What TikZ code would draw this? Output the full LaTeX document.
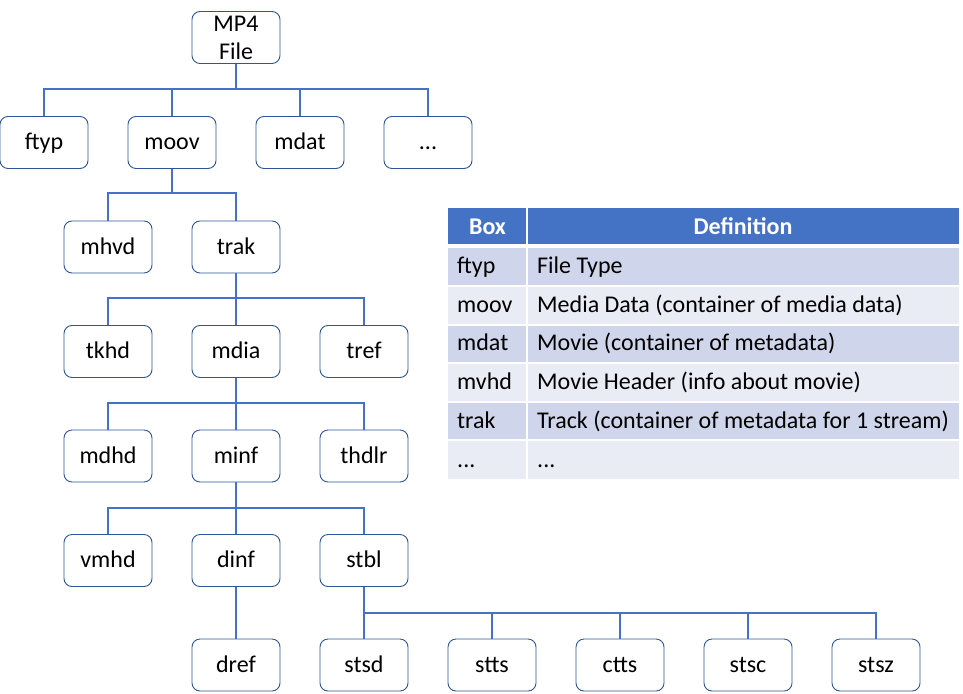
\documentclass[tikz,border=0pt]{standalone}
\usepackage{fontspec}
\setmainfont{Carlito}
\definecolor{conn}{HTML}{4472C4}
\definecolor{boxline}{HTML}{2F5597}
\definecolor{hdr}{HTML}{4472C4}
\definecolor{rowdark}{HTML}{CFD5EA}
\definecolor{rowlight}{HTML}{E9EBF5}
\tikzset{
  bxbase/.style={draw=boxline, line width=0.9pt, rounded corners=8pt, fill=white,
    minimum width=88pt, minimum height=52pt, inner sep=0pt, align=center,
    font=\fontsize{24}{28}\selectfont},
  bx/.style={bxbase, text height=18pt, text depth=4pt},
  cn/.style={draw=conn, line width=2pt},
  tcell/.style={anchor=west, inner sep=0pt, text height=19pt, text depth=5pt,
    font=\fontsize{24}{26}\selectfont},
  thead/.style={inner sep=0pt, text=white, text height=19pt, text depth=3pt,
    font=\fontsize{24}{26}\selectfont\bfseries},
}
\begin{document}
\begin{tikzpicture}[x=1pt,y=-1pt]
\useasboundingbox (0,0) rectangle (963,693);
% tree nodes
\node[bxbase] (mp4) at (236,37.5) {MP4\\File};
\node[bx] (ftyp) at (44,142.5) {ftyp};
\node[bx] (moov) at (172,142.5) {moov};
\node[bx] (mdat) at (300,142.5) {mdat};
\node[bx] (etc) at (428,142.5) {...};
\node[bx] (mhvd) at (108,247) {mhvd};
\node[bx] (trak) at (236,247) {trak};
\node[bx] (tkhd) at (108,351.5) {tkhd};
\node[bx] (mdia) at (236,351.5) {mdia};
\node[bx] (tref) at (364,351.5) {tref};
\node[bx] (mdhd) at (108,456) {mdhd};
\node[bx] (minf) at (236,456) {minf};
\node[bx] (thdlr) at (364,456) {thdlr};
\node[bx] (vmhd) at (108,560.5) {vmhd};
\node[bx] (dinf) at (236,560.5) {dinf};
\node[bx] (stbl) at (364,560.5) {stbl};
\node[bx] (dref) at (236,665) {dref};
\node[bx] (stsd) at (364,665) {stsd};
\node[bx] (stts) at (492,665) {stts};
\node[bx] (ctts) at (620,665) {ctts};
\node[bx] (stsc) at (748,665) {stsc};
\node[bx] (stsz) at (876,665) {stsz};
% junctions
\coordinate (j0) at (236,88.5);
\coordinate (j1) at (172,193);
\coordinate (j2) at (236,298);
\coordinate (j3) at (236,403);
\coordinate (j4) at (236,508);
\coordinate (j5) at (364,613);
% connectors
\draw[cn] (mp4) -- (j0);
\draw[cn] (j0) -| (ftyp);
\draw[cn] (j0) -| (moov);
\draw[cn] (j0) -| (mdat);
\draw[cn] (j0) -| (etc);
\draw[cn] (moov) -- (j1);
\draw[cn] (j1) -| (mhvd);
\draw[cn] (j1) -| (trak);
\draw[cn] (trak) -- (j2);
\draw[cn] (j2) -| (tkhd);
\draw[cn] (j2) -- (mdia);
\draw[cn] (j2) -| (tref);
\draw[cn] (mdia) -- (j3);
\draw[cn] (j3) -| (mdhd);
\draw[cn] (j3) -- (minf);
\draw[cn] (j3) -| (thdlr);
\draw[cn] (minf) -- (j4);
\draw[cn] (j4) -| (vmhd);
\draw[cn] (j4) -- (dinf);
\draw[cn] (j4) -| (stbl);
\draw[cn] (dinf) -- (dref);
\draw[cn] (stbl) -- (j5);
\draw[cn] (j5) -- (stsd);
\draw[cn] (j5) -| (stts);
\draw[cn] (j5) -| (ctts);
\draw[cn] (j5) -| (stsc);
\draw[cn] (j5) -| (stsz);
% table
\fill[hdr] (448,207.5) rectangle (959,244);
\fill[rowdark]  (448,247.5) rectangle (959,285);
\fill[rowlight] (448,287) rectangle (959,323.5);
\fill[rowdark]  (448,325.5) rectangle (959,362);
\fill[rowlight] (448,364) rectangle (959,400.5);
\fill[rowdark]  (448,402.5) rectangle (959,439);
\fill[rowlight] (448,441) rectangle (959,478.5);
\draw[white, line width=2pt] (527,207) -- (527,479);
\node[thead] (hbox) at (487.5,226) {Box};
\node[thead] (hdef) at (743,226) {Definition};
\node[tcell] (c11) at (457,266) {ftyp};
\node[tcell] (c12) at (537,266) {File Type};
\node[tcell] (c21) at (457,305) {moov};
\node[tcell] (c22) at (537,305) {Media Data (container of media data)};
\node[tcell] (c31) at (457,343.5) {mdat};
\node[tcell] (c32) at (537,343.5) {Movie (container of metadata)};
\node[tcell] (c41) at (457,382) {mvhd};
\node[tcell] (c42) at (537,382) {Movie Header (info about movie)};
\node[tcell] (c51) at (457,421) {trak};
\node[tcell] (c52) at (537,421) {Track (container of metadata for 1 stream)};
\node[tcell] (c61) at (457,460) {...};
\node[tcell] (c62) at (537,460) {...};
\end{tikzpicture}
\end{document}
